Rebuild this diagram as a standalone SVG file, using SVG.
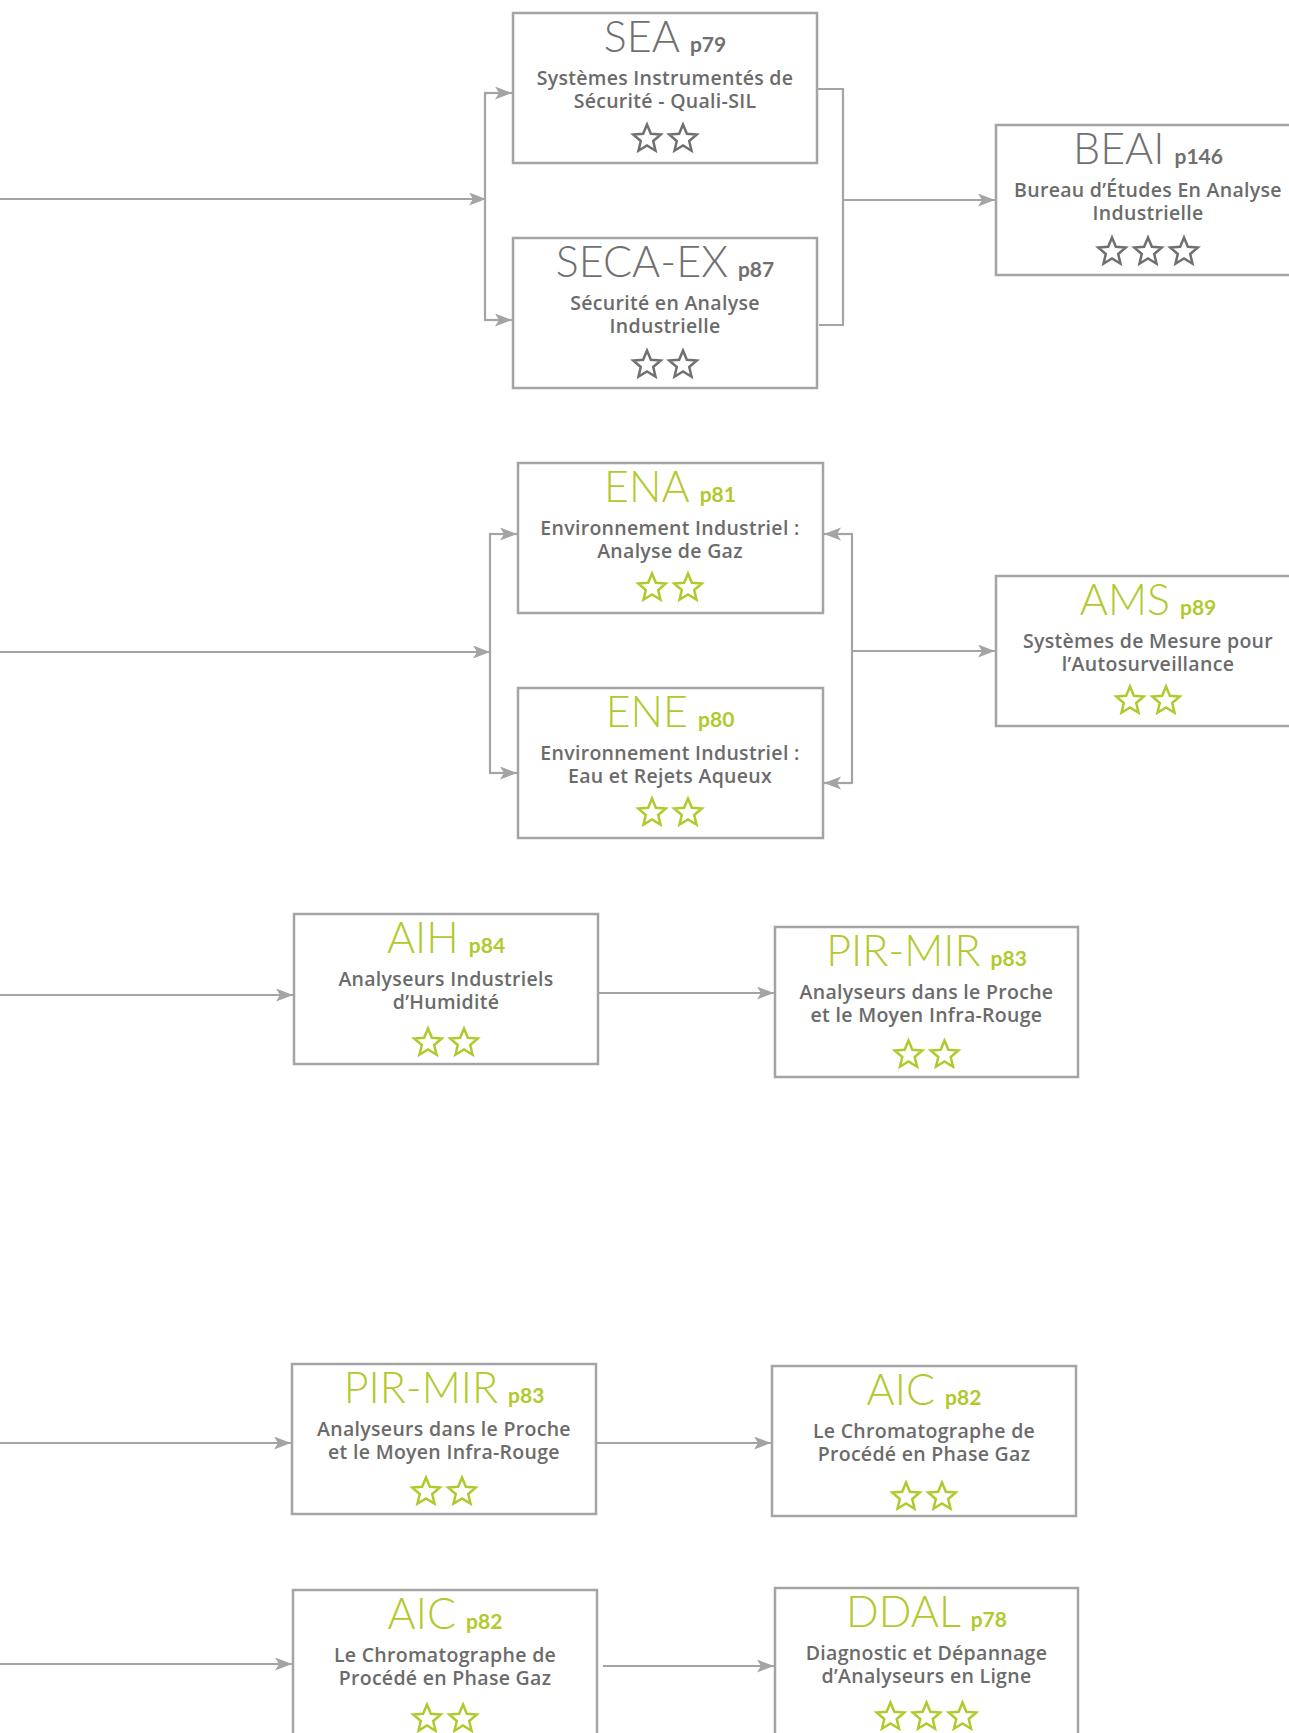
<svg xmlns="http://www.w3.org/2000/svg" xmlns:xlink="http://www.w3.org/1999/xlink" width="1289" height="1733" viewBox="0 0 1289 1733">
<style>
.box{fill:#fff;stroke:#a4a4a4;stroke-width:2.5}
.t{font-family:Lato,"Open Sans","DejaVu Sans",sans-serif;font-weight:300;font-size:43px;text-anchor:middle}
.p{font-family:Lato,"Open Sans",sans-serif;font-weight:700;font-size:21px}
.s{font-family:"Open Sans","Liberation Sans",sans-serif;font-weight:600;font-size:19.5px;letter-spacing:0.3px;fill:#6b6b6b;text-anchor:middle}
.g{fill:#b2c92e}
.k{fill:#707070}
.sg{fill:none;stroke:#b2c92e;stroke-width:2.5}
.sk{fill:none;stroke:#707070;stroke-width:2.5}
.c{fill:none;stroke:#a4a4a4;stroke-width:2.2}
.a{fill:none;stroke:#a4a4a4;stroke-width:2.2;marker-end:url(#arr)}
</style>
<defs>
<marker id="arr" markerUnits="userSpaceOnUse" markerWidth="18" markerHeight="14" refX="17" refY="6.5" orient="auto">
<path d="M0,0 L17,6.5 L0,13 L4,6.5 Z" fill="#a4a4a4"/>
</marker>
<path id="star" d="M0,-14.5 L3.85,-5.30 L13.79,-4.48 L6.22,2.02 L8.52,11.73 L0,6.55 L-8.52,11.73 L-6.22,2.02 L-13.79,-4.48 L-3.85,-5.30 Z"/>
</defs>
<rect width="1289" height="1733" fill="#fff"/>
<g id="connectors">
<path class="a" d="M0,199 H486"/>
<path class="c" d="M485,93 V320"/>
<path class="a" d="M484,93 H512"/>
<path class="a" d="M484,320 H512"/>
<path class="c" d="M818,89 H843 V325 H819"/>
<path class="a" d="M843,200 H995"/>
<path class="a" d="M0,652 H490"/>
<path class="c" d="M490,534 V773"/>
<path class="a" d="M489,534 H517"/>
<path class="a" d="M489,773 H517"/>
<path class="c" d="M852,534 V783"/>
<path class="a" d="M853,534 H824"/>
<path class="a" d="M853,783 H824"/>
<path class="a" d="M852,651 H995"/>
<path class="a" d="M0,995 H293"/>
<path class="a" d="M599,993 H774"/>
<path class="a" d="M0,1443 H291"/>
<path class="a" d="M597,1443 H771"/>
<path class="a" d="M0,1664 H292"/>
<path class="a" d="M603,1666 H774"/>
</g>
<g id="SEA">
<rect class="box" x="513" y="13" width="304" height="150"/>
<text class="t k" x="665" y="52">SEA<tspan class="p" dx="10">p79</tspan></text>
<text class="s" x="665" y="85">Systèmes Instrumentés de</text>
<text class="s" x="665" y="108">Sécurité - Quali-SIL</text>
<use xlink:href="#star" class="sk" x="647" y="139"/>
<use xlink:href="#star" class="sk" x="683" y="139"/>
</g>
<g id="SECA-EX">
<rect class="box" x="513" y="238" width="304" height="150"/>
<text class="t k" x="665" y="277">SECA-EX<tspan class="p" dx="10">p87</tspan></text>
<text class="s" x="665" y="310">Sécurité en Analyse</text>
<text class="s" x="665" y="333">Industrielle</text>
<use xlink:href="#star" class="sk" x="647" y="365"/>
<use xlink:href="#star" class="sk" x="683" y="365"/>
</g>
<g id="BEAI">
<rect class="box" x="996" y="125" width="304" height="150"/>
<text class="t k" x="1148" y="164">BEAI<tspan class="p" dx="10">p146</tspan></text>
<text class="s" x="1148" y="197">Bureau d’Études En Analyse</text>
<text class="s" x="1148" y="220">Industrielle</text>
<use xlink:href="#star" class="sk" x="1112" y="252"/>
<use xlink:href="#star" class="sk" x="1148" y="252"/>
<use xlink:href="#star" class="sk" x="1184" y="252"/>
</g>
<g id="ENA">
<rect class="box" x="518" y="463" width="305" height="150"/>
<text class="t g" x="670" y="502">ENA<tspan class="p" dx="10">p81</tspan></text>
<text class="s" x="670" y="535">Environnement Industriel :</text>
<text class="s" x="670" y="558">Analyse de Gaz</text>
<use xlink:href="#star" class="sg" x="652" y="588"/>
<use xlink:href="#star" class="sg" x="688" y="588"/>
</g>
<g id="ENE">
<rect class="box" x="518" y="688" width="305" height="150"/>
<text class="t g" x="670" y="727">ENE<tspan class="p" dx="10">p80</tspan></text>
<text class="s" x="670" y="760">Environnement Industriel :</text>
<text class="s" x="670" y="783">Eau et Rejets Aqueux</text>
<use xlink:href="#star" class="sg" x="652" y="813"/>
<use xlink:href="#star" class="sg" x="688" y="813"/>
</g>
<g id="AMS">
<rect class="box" x="996" y="576" width="304" height="150"/>
<text class="t g" x="1148" y="615">AMS<tspan class="p" dx="10">p89</tspan></text>
<text class="s" x="1148" y="648">Systèmes de Mesure pour</text>
<text class="s" x="1148" y="671">l’Autosurveillance</text>
<use xlink:href="#star" class="sg" x="1130" y="701"/>
<use xlink:href="#star" class="sg" x="1166" y="701"/>
</g>
<g id="AIH">
<rect class="box" x="294" y="914" width="304" height="150"/>
<text class="t g" x="446" y="953">AIH<tspan class="p" dx="10">p84</tspan></text>
<text class="s" x="446" y="986">Analyseurs Industriels</text>
<text class="s" x="446" y="1009">d’Humidité</text>
<use xlink:href="#star" class="sg" x="428" y="1043"/>
<use xlink:href="#star" class="sg" x="464" y="1043"/>
</g>
<g id="PIR-MIR-1">
<rect class="box" x="775" y="927" width="303" height="150"/>
<text class="t g" x="926.5" y="966">PIR-MIR<tspan class="p" dx="10">p83</tspan></text>
<text class="s" x="926.5" y="999">Analyseurs dans le Proche</text>
<text class="s" x="926.5" y="1022">et le Moyen Infra-Rouge</text>
<use xlink:href="#star" class="sg" x="908.5" y="1055"/>
<use xlink:href="#star" class="sg" x="944.5" y="1055"/>
</g>
<g id="PIR-MIR-2">
<rect class="box" x="292" y="1364" width="304" height="150"/>
<text class="t g" x="444" y="1403">PIR-MIR<tspan class="p" dx="10">p83</tspan></text>
<text class="s" x="444" y="1436">Analyseurs dans le Proche</text>
<text class="s" x="444" y="1459">et le Moyen Infra-Rouge</text>
<use xlink:href="#star" class="sg" x="426" y="1492"/>
<use xlink:href="#star" class="sg" x="462" y="1492"/>
</g>
<g id="AIC-1">
<rect class="box" x="772" y="1366" width="304" height="150"/>
<text class="t g" x="924" y="1405">AIC<tspan class="p" dx="10">p82</tspan></text>
<text class="s" x="924" y="1438">Le Chromatographe de</text>
<text class="s" x="924" y="1461">Procédé en Phase Gaz</text>
<use xlink:href="#star" class="sg" x="906" y="1497"/>
<use xlink:href="#star" class="sg" x="942" y="1497"/>
</g>
<g id="AIC-2">
<rect class="box" x="293" y="1590" width="304" height="160"/>
<text class="t g" x="445" y="1629">AIC<tspan class="p" dx="10">p82</tspan></text>
<text class="s" x="445" y="1662">Le Chromatographe de</text>
<text class="s" x="445" y="1685">Procédé en Phase Gaz</text>
<use xlink:href="#star" class="sg" x="427" y="1719"/>
<use xlink:href="#star" class="sg" x="463" y="1719"/>
</g>
<g id="DDAL">
<rect class="box" x="775" y="1588" width="303" height="160"/>
<text class="t g" x="926.5" y="1627">DDAL<tspan class="p" dx="10">p78</tspan></text>
<text class="s" x="926.5" y="1660">Diagnostic et Dépannage</text>
<text class="s" x="926.5" y="1683">d’Analyseurs en Ligne</text>
<use xlink:href="#star" class="sg" x="890.5" y="1717"/>
<use xlink:href="#star" class="sg" x="926.5" y="1717"/>
<use xlink:href="#star" class="sg" x="962.5" y="1717"/>
</g>
</svg>
